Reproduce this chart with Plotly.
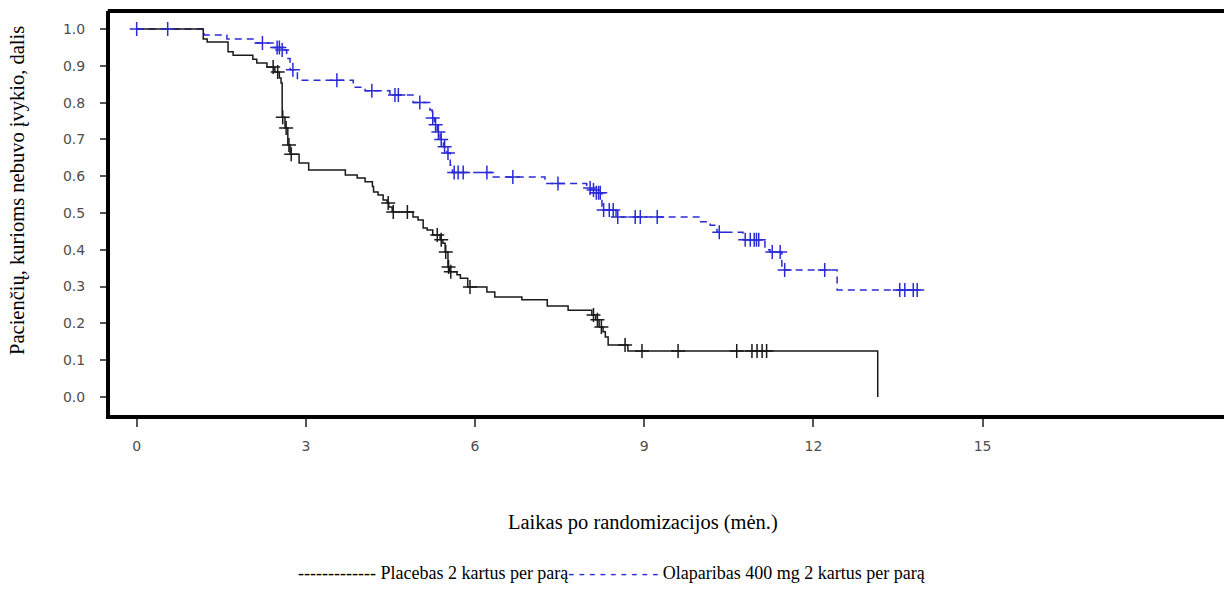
import plotly.graph_objects as go

# ---- data ----
placebo_time = [0, 1.18, 1.25, 1.62, 1.71, 2.06, 2.13, 2.31, 2.45, 2.53, 2.56, 2.58, 2.63, 2.68,
                2.72, 2.88, 3.05, 3.70, 3.91, 4.05, 4.18, 4.20, 4.28, 4.37, 4.44, 4.47, 4.53, 4.90,
                4.99, 5.08, 5.15, 5.25, 5.38, 5.43, 5.47, 5.52, 5.55, 5.68, 5.74, 5.87, 6.21, 6.35,
                6.83, 7.28, 7.65, 8.07, 8.14, 8.20, 8.27, 8.31, 8.36, 8.71, 13.14, 13.14]
placebo_surv = [1.0, 0.973, 0.965, 0.938, 0.929, 0.918, 0.908, 0.897, 0.883, 0.867, 0.853, 0.76,
                0.731, 0.685, 0.66, 0.636, 0.617, 0.603, 0.595, 0.585, 0.572, 0.557, 0.549, 0.535,
                0.527, 0.516, 0.503, 0.489, 0.481, 0.459, 0.454, 0.44, 0.427, 0.418, 0.394, 0.353,
                0.34, 0.332, 0.323, 0.299, 0.285, 0.272, 0.264, 0.247, 0.236, 0.223, 0.21, 0.19,
                0.177, 0.163, 0.141, 0.125, 0.125, 0.0]
placebo_cens_time = [2.42, 2.50, 2.59, 2.65, 2.70, 2.74, 4.46, 4.55, 4.80, 5.33, 5.40, 5.48, 5.53,
                     5.57, 5.91, 8.10, 8.17, 8.24, 8.66, 8.96, 9.60, 10.64, 10.91, 11.00, 11.09, 11.17]
placebo_cens_surv = [0.897, 0.883, 0.76, 0.731, 0.685, 0.66, 0.527, 0.503, 0.503, 0.44, 0.427, 0.394,
                     0.353, 0.34, 0.299, 0.223, 0.21, 0.19, 0.141, 0.125, 0.125, 0.125, 0.125, 0.125,
                     0.125, 0.125]

olap_time = [0, 1.20, 1.60, 2.10, 2.45, 2.55, 2.66, 2.72, 2.85, 3.84, 4.05, 4.49, 4.90, 5.20, 5.24,
             5.28, 5.33, 5.38, 5.44, 5.50, 5.56, 5.60, 6.32, 7.24, 7.98, 8.05, 8.12, 8.25, 8.50,
             10.00, 10.17, 10.29, 10.75, 11.14, 11.23, 11.44, 12.42, 13.90]
olap_surv = [1.0, 0.984, 0.973, 0.962, 0.95, 0.943, 0.92, 0.889, 0.861, 0.842, 0.832, 0.821, 0.80,
             0.78, 0.758, 0.74, 0.72, 0.70, 0.68, 0.663, 0.63, 0.61, 0.598, 0.58, 0.568, 0.5625,
             0.555, 0.508, 0.489, 0.476, 0.467, 0.448, 0.427, 0.40, 0.394, 0.345, 0.291, 0.291]
olap_cens_time = [0.0, 0.55, 2.23, 2.49, 2.53, 2.58, 2.77, 3.55, 4.17, 4.58, 4.64, 5.02, 5.25, 5.30,
                  5.35, 5.40, 5.46, 5.52, 5.63, 5.70, 5.79, 6.21, 6.67, 7.47, 8.04, 8.10, 8.15, 8.19,
                  8.22, 8.28, 8.38, 8.45, 8.53, 8.84, 8.93, 9.23, 10.33, 10.79, 10.88, 10.95, 10.99,
                  11.03, 11.27, 11.41, 11.49, 12.20, 13.53, 13.62, 13.77, 13.84]
olap_cens_surv = [1.0, 1.0, 0.962, 0.95, 0.95, 0.943, 0.889, 0.861, 0.832, 0.821, 0.821, 0.80, 0.758,
                  0.74, 0.72, 0.70, 0.68, 0.663, 0.61, 0.61, 0.61, 0.61, 0.598, 0.58, 0.568, 0.5625,
                  0.555, 0.555, 0.555, 0.508, 0.508, 0.508, 0.489, 0.489, 0.489, 0.489, 0.448, 0.427,
                  0.427, 0.427, 0.427, 0.427, 0.394, 0.394, 0.345, 0.345, 0.291, 0.291, 0.291, 0.291]

x_ticks = [0, 3, 6, 9, 12, 15]
y_ticks = [0.0, 0.1, 0.2, 0.3, 0.4, 0.5, 0.6, 0.7, 0.8, 0.9, 1.0]

BLUE = "#2b2bd6"
BLACK = "#1a1a1a"

fig = go.Figure()
fig.add_trace(go.Scatter(x=olap_time, y=olap_surv, mode="lines", line_shape="hv",
                         line=dict(color=BLUE, width=1.5, dash="7px,5px"), showlegend=False))
fig.add_trace(go.Scatter(x=placebo_time, y=placebo_surv, mode="lines", line_shape="hv",
                         line=dict(color=BLACK, width=1.5), showlegend=False))
fig.add_trace(go.Scatter(x=placebo_cens_time, y=placebo_cens_surv, mode="markers",
                         marker=dict(symbol="cross-thin", size=10, line=dict(color=BLACK, width=1.5)),
                         showlegend=False))
fig.add_trace(go.Scatter(x=olap_cens_time, y=olap_cens_surv, mode="markers",
                         marker=dict(symbol="cross-thin", size=10, line=dict(color=BLUE, width=1.5)),
                         showlegend=False))

tickfont = dict(family="DejaVu Sans", size=14, color="#4d4d4d")
fig.update_xaxes(range=[-0.473, 19.28], tickvals=x_ticks, ticktext=[str(v) for v in x_ticks],
                 showgrid=False, zeroline=False, showline=True, linecolor="black", linewidth=4,
                 ticks="outside", ticklen=8, tickwidth=1.5, tickcolor="#555555", tickfont=tickfont,
                 ticklabelstandoff=7)
fig.update_yaxes(range=[-0.049, 1.049], tickvals=y_ticks, ticktext=[f"{v:.1f}" for v in y_ticks],
                 showgrid=False, zeroline=False, showline=True, linecolor="black", linewidth=4,
                 ticks="outside", ticklen=6, tickwidth=1.5, tickcolor="#555555", tickfont=tickfont,
                 ticklabelstandoff=12)

serif = "Liberation Serif, Times New Roman, serif"
fig.update_layout(
    width=1224, height=601,
    margin=dict(l=110, r=0, t=11, b=186),
    plot_bgcolor="white", paper_bgcolor="white",
    shapes=[dict(type="line", xref="paper", yref="paper", x0=-0.002, x1=1.0, y0=1, y1=1,
                 line=dict(color="black", width=4))],
    annotations=[
        dict(text="Pacienčių, kurioms nebuvo įvykio, dalis", xref="paper", yref="paper",
             x=-0.0826, y=0.557, textangle=-90, showarrow=False, xanchor="center", yanchor="middle",
             font=dict(family=serif, size=20.5, color="black")),
        dict(text="Laikas po randomizacijos (mėn.)", xref="paper", yref="paper",
             x=0.4785, y=-0.2649, showarrow=False, xanchor="center", yanchor="middle",
             font=dict(family=serif, size=20.5, color="black")),
        dict(text="------------- Placebas 2 kartus per parą<span style='color:" + BLUE +
                  "'>- - - - - - - - -</span> Olaparibas 400 mg 2 kartus per parą",
             xref="paper", yref="paper", x=0.4505, y=-0.391, showarrow=False,
             xanchor="center", yanchor="middle",
             font=dict(family=serif, size=18, color="black")),
    ],
)

fig.write_html("out.html")
